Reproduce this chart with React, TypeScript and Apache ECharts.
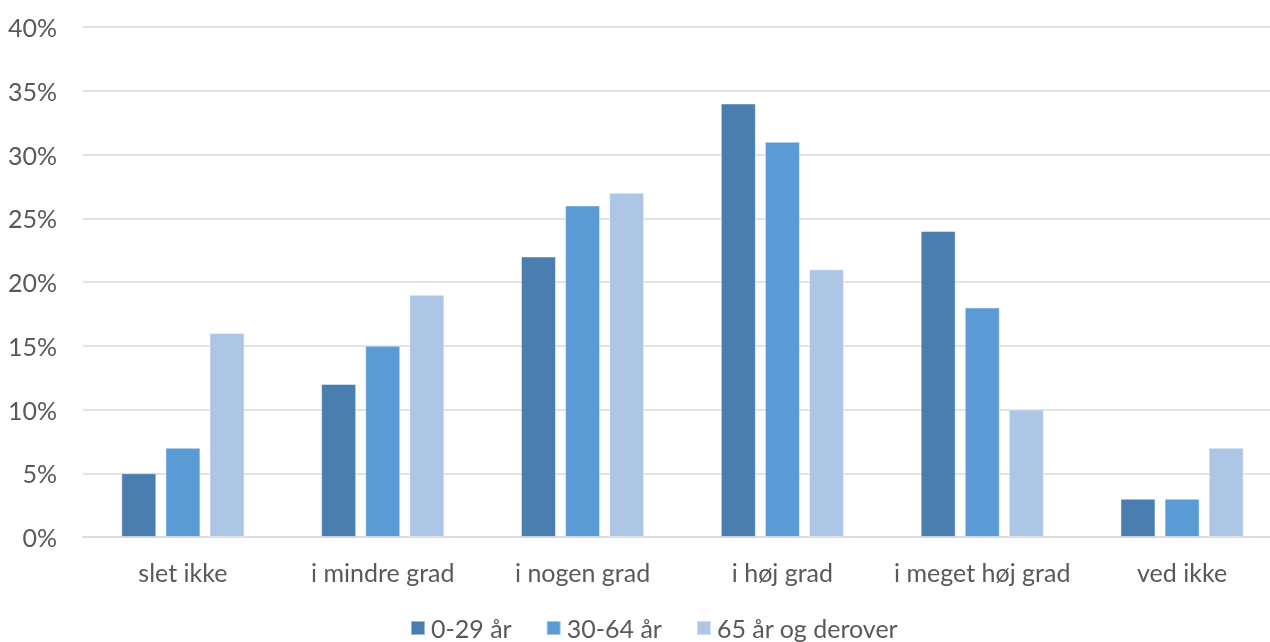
import React, { useEffect, useRef } from "react";
import * as echarts from "echarts";

const categories = ["slet ikke", "i mindre grad", "i nogen grad", "i høj grad", "i meget høj grad", "ved ikke"];
const seriesNames = ["0-29 år", "30-64 år", "65 år og derover"];
const young = [5, 12, 22, 34, 24, 3];
const middle = [7, 15, 26, 31, 18, 3];
const old = [16, 19, 27, 21, 10, 7];
const colors = ["#4a7eb0", "#5b9bd5", "#adc6e6"];

export default function App() {
  const ref = useRef<HTMLDivElement>(null);
  useEffect(() => {
    document.body.style.margin = "0";
    const chart = echarts.init(ref.current!, null, { renderer: "svg" });
    const font = "Lato, 'Open Sans', sans-serif";
    const values = [young, middle, old];
    chart.setOption({
      animation: false,
      color: colors,
      grid: { left: 83, width: 1199, top: 27, bottom: 105, containLabel: false, outerBoundsMode: "none" },
      legend: {
        top: 614,
        left: 410,
        padding: 0,
        itemWidth: 14,
        itemHeight: 14,
        itemGap: 34,
        icon: "rect",
        textStyle: { fontFamily: font, fontSize: 25, lineHeight: 28, color: "#595959", padding: [0, 0, 0, 1] },
        data: seriesNames,
      },
      xAxis: {
        type: "category",
        data: categories,
        axisTick: { show: false },
        axisLine: { lineStyle: { color: "#d9d9d9", width: 1.5 } },
        axisLabel: { fontFamily: font, fontSize: 25, color: "#595959", margin: 22, interval: 0 },
      },
      yAxis: {
        type: "value",
        min: 0,
        max: 40,
        interval: 5,
        axisLabel: { fontFamily: font, fontSize: 25, color: "#595959", formatter: "{value}%", margin: 26 },
        splitLine: { lineStyle: { color: "#d9d9d9", width: 1.5 } },
        axisLine: { show: false },
        axisTick: { show: false },
      },
      series: seriesNames.map((name, i) => ({
        name,
        type: "bar",
        data: values[i],
        barWidth: 35,
        barGap: "26%",
        itemStyle: { borderColor: "rgba(255,255,255,0.45)", borderWidth: 1 },
      })),
    });
    return () => chart.dispose();
  }, []);
  return <div ref={ref} style={{ position: "fixed", left: 0, top: 0, width: 1270, height: 642 }} />;
}
